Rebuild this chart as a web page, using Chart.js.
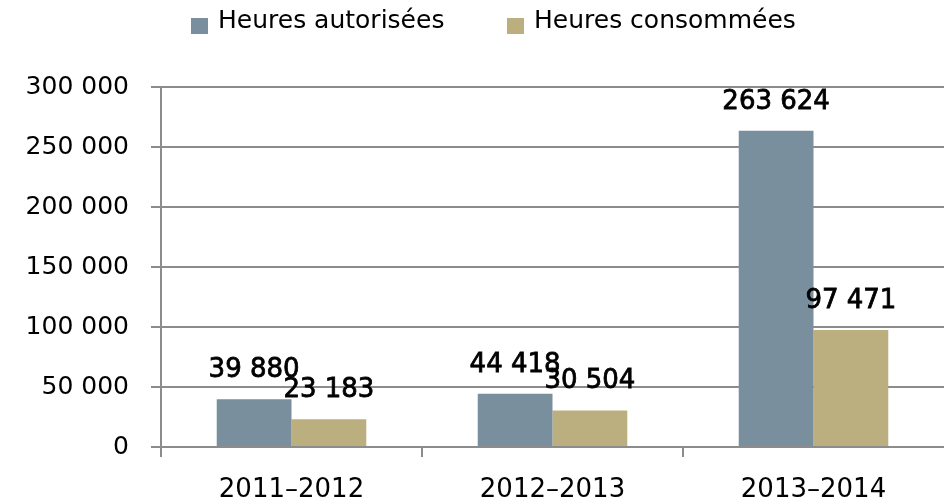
<!DOCTYPE html>
<html lang="fr">
<head>
<meta charset="utf-8">
<title>Heures autorisées et consommées</title>
<script src="https://cdn.jsdelivr.net/npm/chart.js@4/dist/chart.umd.min.js"></script>
<style>
	html, body { margin: 0; padding: 0; background: #fff; }
	#wrap { position: relative; width: 944px; height: 500px; overflow: hidden; }
	#chart { position: absolute; left: 0; top: 0; }
	.legend-box { position: absolute; top: 18px; width: 17px; height: 16px; }
	.legend-text { position: absolute; top: 7px; line-height: 25px;
		font-family: "DejaVu Sans", sans-serif; font-size: 25px; color: #000; white-space: nowrap; }
</style>
</head>
<body>
<div id="wrap">
	<canvas id="chart" width="944" height="500"></canvas>
	<div id="legend"></div>
</div>
<script>
(function () {
	'use strict';

	// data
	var categories = ['2011–2012', '2012–2013', '2013–2014'];
	var seriesNames = ['Heures autorisées', 'Heures consommées'];
	var autorisees = [39880, 44418, 263624];
	var consommees = [23183, 30504, 97471];
	var yTicks = [0, 50000, 100000, 150000, 200000, 250000, 300000];

	var colors = ['#7a8f9e', '#bbaf7f'];
	var gridColor = '#8c8c8c';

	function formatNumber(v) {
		return String(v).replace(/\B(?=(\d{3})+(?!\d))/g, ' ');
	}

	// html legend, built from the series names
	var legendLeft = [191, 507];
	var legend = document.getElementById('legend');
	seriesNames.forEach(function (name, i) {
		var box = document.createElement('div');
		box.className = 'legend-box';
		box.style.left = legendLeft[i] + 'px';
		box.style.background = colors[i];
		var txt = document.createElement('div');
		txt.className = 'legend-text';
		txt.style.left = (legendLeft[i] + 27) + 'px';
		txt.textContent = name;
		legend.appendChild(box);
		legend.appendChild(txt);
	});

	// value labels above each bar
	var valueLabels = {
		id: 'valueLabels',
		afterDatasetsDraw: function (chart) {
			var ctx = chart.ctx;
			ctx.save();
			ctx.font = '26px "DejaVu Sans"';
			ctx.textAlign = 'center';
			ctx.textBaseline = 'alphabetic';
			ctx.fillStyle = '#000';
			ctx.strokeStyle = '#000';
			ctx.lineWidth = 0.8;
			chart.data.datasets.forEach(function (ds, di) {
				var meta = chart.getDatasetMeta(di);
				meta.data.forEach(function (bar, i) {
					var text = formatNumber(ds.data[i]);
					ctx.fillText(text, bar.x, bar.y - 22);
					ctx.strokeText(text, bar.x, bar.y - 22);
				});
			});
			ctx.restore();
		}
	};

	var ctx = document.getElementById('chart');
	new Chart(ctx, {
		type: 'bar',
		data: {
			labels: categories,
			datasets: [{
				label: seriesNames[0],
				data: autorisees,
				backgroundColor: colors[0],
				borderWidth: 0,
				categoryPercentage: 0.573,
				barPercentage: 1
			}, {
				label: seriesNames[1],
				data: consommees,
				backgroundColor: colors[1],
				borderWidth: 0,
				categoryPercentage: 0.573,
				barPercentage: 1
			}]
		},
		options: {
			responsive: false,
			animation: false,
			devicePixelRatio: 1,
			layout: {
				padding: { top: 87, right: 0, bottom: 0, left: 0 }
			},
			plugins: {
				legend: { display: false },
				tooltip: { enabled: false }
			},
			scales: {
				x: {
					grid: {
						offset: true,
						drawOnChartArea: false,
						tickLength: 10,
						lineWidth: 2,
						color: function (c) {
							// no tick mark at the right edge
							return c.type === 'tick' ? gridColor : 'rgba(0,0,0,0)';
						}
					},
					border: { color: gridColor, width: 2 },
					ticks: {
						color: '#000',
						padding: 18,
						font: { family: 'DejaVu Sans', size: 26 }
					},
					afterFit: function (axis) {
						axis.height = 53;
					}
				},
				y: {
					min: 0,
					max: 300000,
					afterBuildTicks: function (axis) {
						axis.ticks = yTicks.map(function (v) { return { value: v }; });
					},
					grid: {
						color: gridColor,
						lineWidth: 2,
						tickLength: 10
					},
					border: { color: gridColor, width: 2 },
					ticks: {
						color: '#000',
						padding: 22,
						font: { family: 'DejaVu Sans', size: 25 },
						callback: function (value) {
							return formatNumber(value);
						}
					},
					afterFit: function (axis) {
						axis.width = 161;
					}
				}
			}
		},
		plugins: [valueLabels]
	});
})();
</script>
</body>
</html>
